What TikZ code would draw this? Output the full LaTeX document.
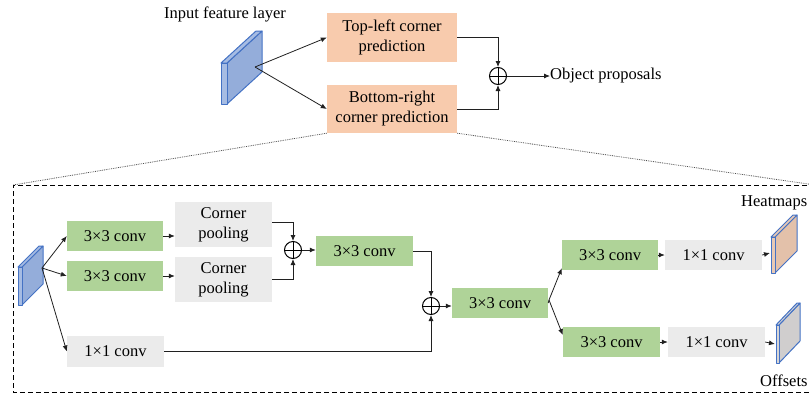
\documentclass[tikz,border=0pt]{standalone}
\usepackage{fontspec}
\setmainfont{Liberation Serif}
\usetikzlibrary{arrows.meta}
\definecolor{orangefill}{HTML}{F8CBAD}
\definecolor{greenfill}{HTML}{AFD398}
\definecolor{grayfill}{HTML}{EBEBEB}
\definecolor{prismblue}{HTML}{94ADDA}
\definecolor{prismlight}{HTML}{A6BCE3}
\definecolor{prismedge}{HTML}{4472C4}
\definecolor{heatfill}{HTML}{E3C1AA}
\definecolor{heatlight}{HTML}{E8C9B4}
\definecolor{offfill}{HTML}{D0CECE}
\definecolor{offlight}{HTML}{D8D6D6}
\definecolor{linecol}{HTML}{202020}
% box: #1 x, #2 y top, #3 front width, #4 height, #5 dx, #6 dy, #7 side fill, #8 front fill
\newcommand\slab[8]{%
  \filldraw[prismline, fill=#7] (#1+#3,#2) -- (#1+#3+#5,#2-#6) -- (#1+#3+#5,#2+#4-#6) -- (#1+#3,#2+#4) -- cycle;
  \filldraw[prismline, fill=#8] (#1,#2) -- (#1+#5,#2-#6) -- (#1+#3+#5,#2-#6) -- (#1+#3,#2) -- cycle;
  \filldraw[prismline, fill=#8] (#1,#2) rectangle (#1+#3,#2+#4);}
\tikzset{
  txt/.style={font=\fontsize{16.5}{20}\selectfont, inner sep=0pt, align=center},
  box/.style={txt, minimum width=97pt, minimum height=30pt},
  orangebox/.style={txt, fill=orangefill, minimum width=130pt},
  greenbox/.style={box, fill=greenfill},
  graybox/.style={box, fill=grayfill},
  prismline/.style={draw=prismedge, line width=1pt, line join=round},
  conn/.style={draw=linecol, line width=0.8pt},
  arr/.style={conn, -{Latex[length=6pt,width=5pt]}},
  plus/.style={circle, draw=black, line width=1pt, minimum size=17pt, inner sep=0pt,
    path picture={\draw[line width=0.8pt] (path picture bounding box.north) -- (path picture bounding box.south)
      (path picture bounding box.west) -- (path picture bounding box.east);}},
}
\begin{document}
\begin{tikzpicture}[x=1pt,y=-1pt]
\useasboundingbox (0,0) rectangle (809,397);
% ---------- top part ----------
\node[txt] (inlab) at (225,14) {Input feature layer};
\slab{221}{63}{6}{41}{35}{32}{prismblue}{prismlight}
\coordinate (pin) at (255,67);
\node[orangebox, minimum height=49pt] (tl) at (392,37.5) {Top-left corner\\prediction};
\node[orangebox, minimum height=48pt] (br) at (392,109) {Bottom-right\\corner prediction};
\node[plus] (c0) at (498,76) {};
\node[txt, anchor=west] (op) at (550,76) {Object proposals};
\draw[arr] (pin) -- (tl.west);
\draw[arr] (pin) -- (br.west);
\draw[arr] (tl.east) -| (c0.north);
\draw[arr] (br.east) -| (c0.south);
\draw[arr] (c0.east) -- (op.west);
% ---------- dashed frame ----------
\coordinate (ftl) at (13,185);
\coordinate (ftr) at (815,185);
\coordinate (fbl) at (13,392);
\coordinate (fbr) at (815,392);
\draw[densely dotted, draw=black!70, line width=0.8pt] (br.south west) -- (ftl);
\draw[densely dotted, draw=black!70, line width=0.8pt] (br.south east) -- (ftr);
\draw[dash pattern=on 5pt off 3pt, line width=0.9pt] (ftr) -- (ftl) -- (fbl) -- (fbr);
% ---------- lower part ----------
\slab{18}{267}{4}{38}{21}{21}{prismblue}{prismlight}
\coordinate (pin2) at (42,268);
\node[greenbox, minimum width=96pt] (g1) at (115,236) {3×3 conv};
\node[greenbox, minimum width=96pt] (g2) at (115,276) {3×3 conv};
\node[graybox, minimum height=45pt] (cp1) at (223.5,224.5) {Corner\\pooling};
\node[graybox, minimum height=45pt] (cp2) at (223.5,279.5) {Corner\\pooling};
\node[graybox, minimum height=31pt] (k1) at (115.5,351.5) {1×1 conv};
\node[plus] (c1) at (293,250) {};
\node[greenbox] (g3) at (364.5,251) {3×3 conv};
\node[plus] (c2) at (431,306) {};
\node[greenbox, minimum width=96pt] (g4) at (500,303) {3×3 conv};
\node[greenbox, minimum width=96pt] (g5) at (610,255) {3×3 conv};
\node[graybox] (k2) at (713.5,255) {1×1 conv};
\node[greenbox] (g6) at (611.5,342) {3×3 conv};
\node[graybox] (k3) at (716.5,342) {1×1 conv};
\slab{771}{237}{4}{36}{22}{22}{heatfill}{heatlight}
\slab{776}{325}{3}{38}{21}{22}{offfill}{offlight}
\coordinate (hm) at (770,253);
\coordinate (of) at (775,344);
\node[txt, anchor=west] (hml) at (741,203) {Heatmaps};
\node[txt, anchor=west] (ofl) at (760,381) {Offsets};
\coordinate (bp) at (549,300);
\coordinate (g5in) at ([yshift=2pt]g5.south west);
\coordinate (g6in) at ([yshift=7pt]g6.west);
\draw[arr] (pin2) -- (g1.west);
\draw[arr] (pin2) -- (g2.west);
\draw[arr] (pin2) -- (k1.west);
\draw[arr] (g1.east) -- (g1.east -| cp1.west);
\draw[arr] (g2.east) -- (g2.east -| cp2.west);
\draw[arr] ([yshift=2pt]cp1.east) -| (c1.north);
\draw[arr] (cp2.east) -| (c1.south);
\draw[arr] (c1.east) -- (c1.east -| g3.west);
\draw[arr] (g3.east) -| (c2.north);
\draw[arr] (k1.east) -| (c2.south);
\draw[arr] (c2.east) -- (c2.east -| g4.west);
\draw[conn] (g4.east) -- (bp);
\draw[arr] (bp) -- (g5in);
\draw[arr] (bp) -- (g6in);
\draw[arr] (g5.east) -- (k2.west);
\draw[arr] (k2.east) -- (hm);
\draw[arr] (g6.east) -- (k3.west);
\draw[arr] (k3.east) -- (of);
\end{tikzpicture}
\end{document}
